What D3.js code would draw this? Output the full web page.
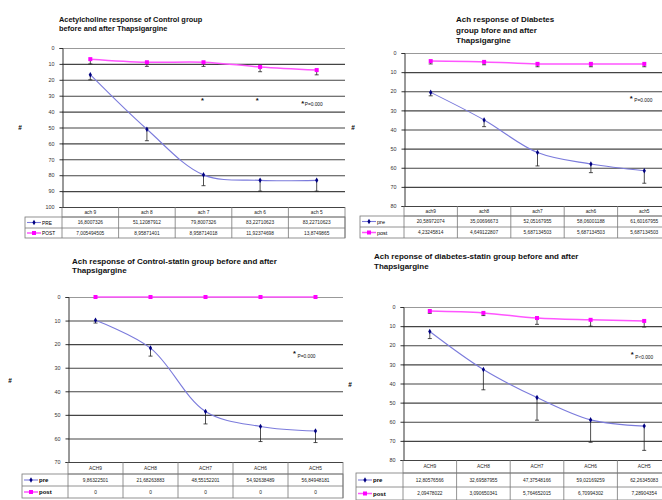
<!DOCTYPE html>
<style>
body { margin: 0; background: #fff; }
svg { font-family: Arial, "Liberation Sans", sans-serif; }
.tick text { font-size: 5.4px; fill: #333; }
</style>
<svg width="662" height="500"></svg>
<script src="https://d3js.org/d3.v7.min.js"></script>
<script>

// ---- data ----
// panel 1: control group
var cats1 = ["ach 9", "ach 8", "ach 7", "ach 6", "ach 5"];
var pre1 = [16.8007326, 51.12087912, 79.8007326, 83.22710623, 83.22710623];
var pre1Err = [3.2, 7.2, 6.8, 6.8, 6.8];
var post1 = [7.005494505, 8.95871401, 8.958714018, 11.92374698, 13.8749865];
var post1Err = [3, 2.6, 2.6, 3, 3];
var ticks1 = [0, 10, 20, 30, 40, 50, 60, 70, 80, 90, 100];
var title1 = ["Acetylcholine response of Control group", "before and after Thapsigargine"];

// panel 2: diabetes group
var cats2 = ["ach9", "ach8", "ach7", "ach6", "ach5"];
var pre2 = [20.58972074, 35.00696673, 52.05167955, 58.06001188, 61.60167955];
var pre2Err = [1.8, 3.5, 7, 4.5, 6.5];
var post2 = [4.23245814, 4.649122807, 5.687134503, 5.687134503, 5.687134503];
var post2Err = [1.5, 1.5, 1.5, 1.5, 1.5];
var ticks2 = [0, 10, 20, 30, 40, 50, 60, 70, 80];
var title2 = ["Ach response of Diabetes", "group bfore and after", "Thapsigargine"];

// panel 3: control-statin group
var cats3 = ["ACH9", "ACH8", "ACH7", "ACH6", "ACH5"];
var pre3 = [9.86322501, 21.68263883, 48.55152201, 54.92638489, 56.84948181];
var pre3Err = [1.2, 3.4, 5.3, 6.4, 4.9];
var post3 = [0, 0, 0, 0, 0];
var post3Err = [0, 0, 0, 0, 0];
var ticks3 = [0, 10, 20, 30, 40, 50, 60, 70];
var title3 = ["Ach response of Control-statin group before and after", "Thapsigargine"];

// panel 4: diabetes-statin group
var cats4 = ["ACH9", "ACH8", "ACH7", "ACH6", "ACH5"];
var pre4 = [12.80576566, 32.69587955, 47.37548166, 59.02169259, 62.26345083];
var pre4Err = [3.7, 10.6, 11.8, 11.7, 12.7];
var post4 = [2.09478022, 3.090650341, 5.764652015, 6.70994302, 7.28904354];
var post4Err = [1.2, 1.4, 3.3, 3.3, 3.2];
var ticks4 = [0, 10, 20, 30, 40, 50, 60, 70, 80];
var title4 = ["Ach reponse of diabetes-statin group before and after", "Thapsigargine"];

var svg = d3.select("svg");

function fmt(v) { return String(v).replace(".", ","); }

function drawPanel(p) {
  var g = svg.append("g");

  var x = d3.scaleBand().domain(p.cats).range([p.x0, p.x1]);
  var y = d3.scaleLinear().domain([0, d3.max(p.ticks)]).range([p.y0, p.y1]);

  // title
  g.append("g")
      .attr("font-size", p.tfs)
      .attr("font-weight", "bold")
      .attr("fill", "#111")
    .selectAll("text")
    .data(p.title)
    .enter().append("text")
      .attr("x", p.tx)
      .attr("y", function(d, i) { return p.ty + i * p.tdy; })
      .text(function(d) { return d; });

  // grid lines
  g.append("g")
    .selectAll("line")
    .data(p.ticks)
    .enter().append("line")
      .attr("x1", p.x0).attr("x2", p.x1)
      .attr("y1", function(d) { return y(d) + 0.5; })
      .attr("y2", function(d) { return y(d) + 0.5; })
      .attr("stroke", function(d) { return d === 0 ? "#999" : "#444"; })
      .attr("stroke-width", 1.1);

  // y axis
  var ax = g.append("g")
      .attr("transform", "translate(" + (p.x0 + 0.5) + ",0)")
      .call(d3.axisLeft(y).tickValues(p.ticks).tickSize(3).tickPadding(5));
  ax.select(".domain").attr("stroke", "#333");
  ax.selectAll(".tick line").attr("stroke", "#333");

  g.append("text")
      .attr("x", p.hx).attr("y", p.hy)
      .attr("font-size", 6.5).attr("font-weight", "bold")
      .attr("text-anchor", "middle")
      .text("#");

  // error bars (one-sided, downward)
  function errBars(vals, errs) {
    var eb = g.append("g").attr("stroke", "#222").attr("stroke-width", 0.8);
    vals.forEach(function(v, i) {
      if (!errs[i]) return;
      var cx = x(p.cats[i]) + x.bandwidth() / 2;
      eb.append("line").attr("x1", cx).attr("x2", cx).attr("y1", y(v)).attr("y2", y(v + errs[i]));
      eb.append("line").attr("x1", cx - 2).attr("x2", cx + 2).attr("y1", y(v + errs[i])).attr("y2", y(v + errs[i]));
    });
  }
  errBars(p.pre, p.preErr);
  errBars(p.post, p.postErr);

  var line = d3.line()
      .x(function(d, i) { return x(p.cats[i]) + x.bandwidth() / 2; })
      .y(function(d) { return y(d); })
      .curve(d3.curveCatmullRom.alpha(0.5));

  // post series
  g.append("path").datum(p.post)
      .attr("fill", "none").attr("stroke", "#ff55ff").attr("stroke-width", 1.5)
      .attr("d", line);
  g.append("g").selectAll("rect")
    .data(p.post)
    .enter().append("rect")
      .attr("x", function(d, i) { return x(p.cats[i]) + x.bandwidth() / 2 - 2; })
      .attr("y", function(d) { return y(d) - 2; })
      .attr("width", 4).attr("height", 4)
      .attr("fill", "#ff00ff");

  // pre series
  g.append("path").datum(p.pre)
      .attr("fill", "none").attr("stroke", "#7b7bdc").attr("stroke-width", 1.1)
      .attr("d", line);
  g.append("g").selectAll("path.m")
    .data(p.pre)
    .enter().append("path")
      .attr("class", "m")
      .attr("transform", function(d, i) {
        return "translate(" + (x(p.cats[i]) + x.bandwidth() / 2) + "," + y(d) + ")";
      })
      .attr("d", d3.symbol().type(d3.symbolDiamond).size(9))
      .attr("fill", "#000080");

  // significance marks
  var note = g.append("g").attr("fill", "#111");
  p.stars.forEach(function(s) {
    note.append("text")
        .attr("x", x(p.cats[s.i]) + x.bandwidth() / 2 + s.dx)
        .attr("y", y(s.v) + 3)
        .attr("font-size", 7.5).attr("font-weight", "bold").attr("text-anchor", "middle")
        .text("*");
  });
  note.append("text")
      .attr("x", x(p.cats[4]) + x.bandwidth() / 2 + p.pdx)
      .attr("y", y(p.pv) + 2)
      .attr("font-size", 4.8)
      .text(p.ptext);

  // data table
  var rows = [p.y1, p.r1, p.r2, p.r3];
  var tb = g.append("g").attr("stroke", "#777").attr("stroke-width", 0.8).attr("fill", "none");
  tb.append("line").attr("x1", p.x0).attr("x2", p.x1).attr("y1", rows[1]).attr("y2", rows[1]);
  tb.append("rect").attr("x", p.lx).attr("y", rows[1]).attr("width", p.x1 - p.lx).attr("height", rows[3] - rows[1]);
  tb.append("line").attr("x1", p.lx).attr("x2", p.x1).attr("y1", rows[2]).attr("y2", rows[2]);
  p.cats.forEach(function(c) {
    tb.append("line").attr("x1", x(c)).attr("x2", x(c)).attr("y1", rows[0]).attr("y2", rows[3]);
  });
  tb.append("line").attr("x1", p.x1).attr("x2", p.x1).attr("y1", rows[0]).attr("y2", rows[3]);

  var tt = g.append("g").attr("font-size", 4.8).attr("fill", "#222").attr("text-anchor", "middle");
  p.cats.forEach(function(c, i) {
    var cx = x(c) + x.bandwidth() / 2;
    tt.append("text").attr("x", cx).attr("y", (rows[0] + rows[1]) / 2 + 1.8).text(c);
    tt.append("text").attr("x", cx).attr("y", (rows[1] + rows[2]) / 2 + 1.8).text(fmt(p.pre[i]));
    tt.append("text").attr("x", cx).attr("y", (rows[2] + rows[3]) / 2 + 1.8).text(fmt(p.post[i]));
  });

  // legend keys inside table
  var ym1 = (rows[1] + rows[2]) / 2, ym2 = (rows[2] + rows[3]) / 2;
  g.append("line").attr("x1", p.lx + 2).attr("x2", p.lx + 16).attr("y1", ym1).attr("y2", ym1)
      .attr("stroke", "#7b7bdc").attr("stroke-width", 1.1);
  g.append("path").attr("transform", "translate(" + (p.lx + 9) + "," + ym1 + ")")
      .attr("d", d3.symbol().type(d3.symbolDiamond).size(9)).attr("fill", "#000080");
  g.append("line").attr("x1", p.lx + 2).attr("x2", p.lx + 16).attr("y1", ym2).attr("y2", ym2)
      .attr("stroke", "#ff55ff").attr("stroke-width", 1.5);
  g.append("rect").attr("x", p.lx + 7).attr("y", ym2 - 2).attr("width", 4).attr("height", 4).attr("fill", "#ff00ff");
  g.append("text").attr("x", p.lx + 17).attr("y", ym1 + 2).attr("font-size", p.lfs)
      .attr("font-weight", p.lfw).text(p.names[0]);
  g.append("text").attr("x", p.lx + 17).attr("y", ym2 + 2).attr("font-size", p.lfs)
      .attr("font-weight", p.lfw).text(p.names[1]);
}

drawPanel({
  cats: cats1, pre: pre1, preErr: pre1Err, post: post1, postErr: post1Err, ticks: ticks1,
  title: title1, tx: 59, ty: 22, tdy: 9, tfs: 7.4,
  x0: 62, x1: 345, y0: 48, y1: 207, r1: 217, r2: 228, r3: 238, lx: 25,
  hx: 20, hy: 130, names: ["PRE", "POST"], lfs: 4.8, lfw: "normal",
  stars: [{i: 2, v: 33, dx: -1}, {i: 3, v: 33, dx: -3}, {i: 4, v: 34.5, dx: -14}],
  pv: 35, pdx: -12, ptext: "P=0.000"
});

drawPanel({
  cats: cats2, pre: pre2, preErr: pre2Err, post: post2, postErr: post2Err, ticks: ticks2,
  title: title2, tx: 456, ty: 22, tdy: 10.5, tfs: 8,
  x0: 404, x1: 671, y0: 53, y1: 206, r1: 216, r2: 227, r3: 238, lx: 360,
  hx: 353, hy: 130, names: ["pre", "post"], lfs: 5.5, lfw: "normal",
  stars: [{i: 4, v: 23.5, dx: -13}],
  pv: 24.8, pdx: -10, ptext: "P=0.000"
});

drawPanel({
  cats: cats3, pre: pre3, preErr: pre3Err, post: post3, postErr: post3Err, ticks: ticks3,
  title: title3, tx: 72, ty: 264, tdy: 9, tfs: 8,
  x0: 68, x1: 343, y0: 297, y1: 462, r1: 474, r2: 486, r3: 498, lx: 22,
  hx: 10, hy: 383, names: ["pre", "post"], lfs: 6, lfw: "bold",
  stars: [{i: 4, v: 23.6, dx: -21}],
  pv: 25, pdx: -18, ptext: "P=0.000"
});

drawPanel({
  cats: cats4, pre: pre4, preErr: pre4Err, post: post4, postErr: post4Err, ticks: ticks4,
  title: title4, tx: 374, ty: 259, tdy: 10, tfs: 8,
  x0: 403, x1: 671, y0: 307, y1: 460, r1: 473, r2: 487, r3: 500, lx: 356,
  hx: 350, hy: 387, names: ["pre", "post"], lfs: 6, lfw: "bold",
  stars: [{i: 4, v: 24.5, dx: -12}],
  pv: 26, pdx: -9, ptext: "P<0.000"
});

</script>
